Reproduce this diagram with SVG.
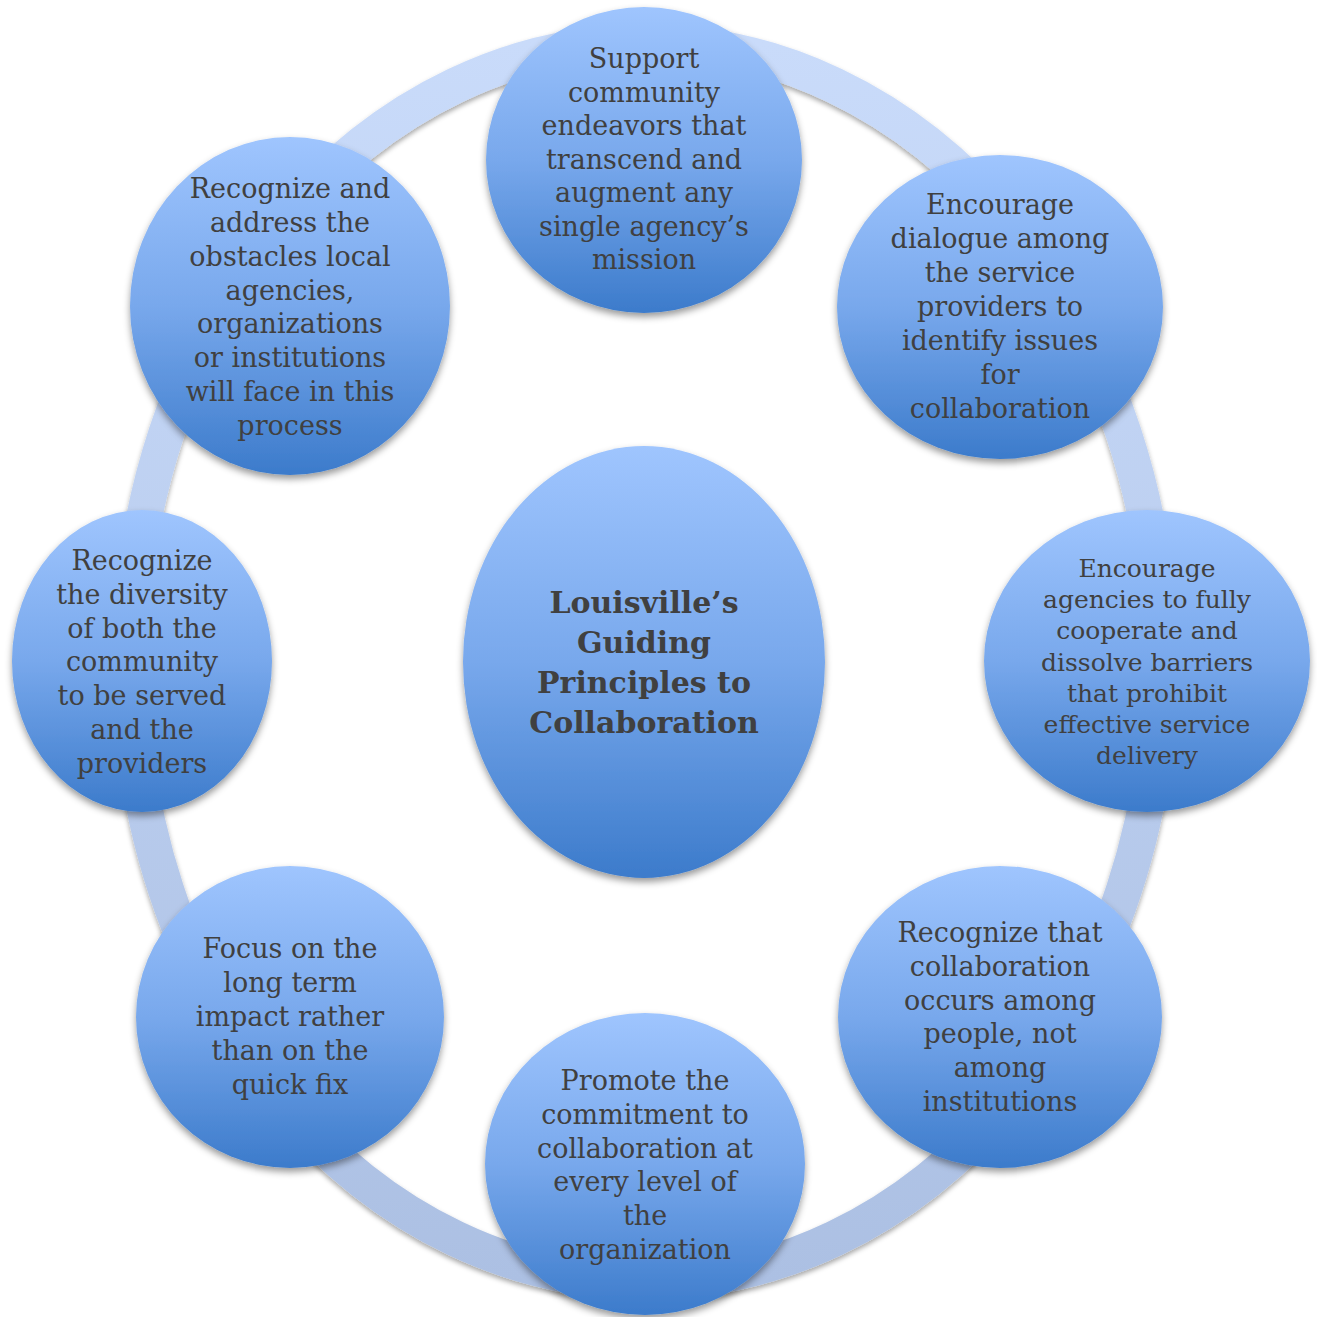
<svg xmlns="http://www.w3.org/2000/svg" width="1317" height="1317" viewBox="0 0 1317 1317">
<style>
  .node { fill: url(#nodeGrad); filter: url(#shadow); }
  .t { font-family: "DejaVu Serif", "Liberation Serif", serif; font-size: 27px; fill: #404040; text-anchor: middle; }
  .s { font-size: 25px; }
  .b { font-weight: bold; font-size: 30px; }
</style>
<defs>
  <linearGradient id="nodeGrad" x1="0" y1="0" x2="0" y2="1">
    <stop offset="0" stop-color="#9FC5FE"/>
    <stop offset="0.5" stop-color="#78A8EC"/>
    <stop offset="1" stop-color="#3C7BCB"/>
  </linearGradient>
  <linearGradient id="ringGrad" x1="0" y1="0" x2="0" y2="1">
    <stop offset="0" stop-color="#C9DBFA"/>
    <stop offset="1" stop-color="#ACC0E3"/>
  </linearGradient>
  <filter id="shadow" x="-10%" y="-10%" width="120%" height="125%">
    <feDropShadow dx="0" dy="4" stdDeviation="3.5" flood-color="#000" flood-opacity="0.4"/>
  </filter>
  <filter id="ringShadow" x="-10%" y="-10%" width="120%" height="120%">
    <feDropShadow dx="0" dy="3" stdDeviation="2.5" flood-color="#000" flood-opacity="0.35"/>
  </filter>
</defs>
<rect width="1317" height="1317" fill="#FFFFFF"/>
<g id="connectors">
  <ellipse cx="645" cy="662" rx="515" ry="620" fill="none" stroke="url(#ringGrad)" stroke-width="36" filter="url(#ringShadow)"/>
</g>
<g id="center">
  <ellipse class="node" cx="644" cy="662" rx="181" ry="216"/>
  <text class="t b"><tspan x="644" y="613">Louisville’s</tspan><tspan x="644" y="653">Guiding</tspan><tspan x="644" y="693">Principles to</tspan><tspan x="644" y="733">Collaboration</tspan></text>
</g>
<g id="node1">
  <ellipse class="node" cx="644" cy="160" rx="158" ry="153"/>
  <text class="t"><tspan x="644" y="68">Support</tspan><tspan x="644" y="101.5">community</tspan><tspan x="644" y="135">endeavors that</tspan><tspan x="644" y="168.5">transcend and</tspan><tspan x="644" y="202">augment any</tspan><tspan x="644" y="235.5">single agency’s</tspan><tspan x="644" y="269">mission</tspan></text>
</g>
<g id="node2">
  <ellipse class="node" cx="1000" cy="307" rx="163" ry="152"/>
  <text class="t"><tspan x="1000" y="214">Encourage</tspan><tspan x="1000" y="248">dialogue among</tspan><tspan x="1000" y="282">the service</tspan><tspan x="1000" y="316">providers to</tspan><tspan x="1000" y="350">identify issues</tspan><tspan x="1000" y="384">for</tspan><tspan x="1000" y="418">collaboration</tspan></text>
</g>
<g id="node3">
  <ellipse class="node" cx="1147" cy="661" rx="163" ry="151"/>
  <text class="t s"><tspan x="1147" y="577">Encourage</tspan><tspan x="1147" y="608">agencies to fully</tspan><tspan x="1147" y="639">cooperate and</tspan><tspan x="1147" y="671">dissolve barriers</tspan><tspan x="1147" y="702">that prohibit</tspan><tspan x="1147" y="733">effective service</tspan><tspan x="1147" y="764">delivery</tspan></text>
</g>
<g id="node4">
  <ellipse class="node" cx="1000" cy="1017" rx="162" ry="151"/>
  <text class="t"><tspan x="1000" y="942">Recognize that</tspan><tspan x="1000" y="976">collaboration</tspan><tspan x="1000" y="1010">occurs among</tspan><tspan x="1000" y="1043">people, not</tspan><tspan x="1000" y="1077">among</tspan><tspan x="1000" y="1111">institutions</tspan></text>
</g>
<g id="node5">
  <ellipse class="node" cx="645" cy="1164" rx="160" ry="151"/>
  <text class="t"><tspan x="645" y="1090">Promote the</tspan><tspan x="645" y="1124">commitment to</tspan><tspan x="645" y="1158">collaboration at</tspan><tspan x="645" y="1191">every level of</tspan><tspan x="645" y="1225">the</tspan><tspan x="645" y="1259">organization</tspan></text>
</g>
<g id="node6">
  <ellipse class="node" cx="290" cy="1017" rx="154" ry="151"/>
  <text class="t"><tspan x="290" y="958">Focus on the</tspan><tspan x="290" y="992">long term</tspan><tspan x="290" y="1026">impact rather</tspan><tspan x="290" y="1060">than on the</tspan><tspan x="290" y="1094">quick fix</tspan></text>
</g>
<g id="node7">
  <ellipse class="node" cx="142" cy="661" rx="130" ry="151"/>
  <text class="t"><tspan x="142" y="570">Recognize</tspan><tspan x="142" y="604">the diversity</tspan><tspan x="142" y="638">of both the</tspan><tspan x="142" y="671">community</tspan><tspan x="142" y="705">to be served</tspan><tspan x="142" y="739">and the</tspan><tspan x="142" y="773">providers</tspan></text>
</g>
<g id="node8">
  <ellipse class="node" cx="290" cy="306" rx="160" ry="169"/>
  <text class="t"><tspan x="290" y="198">Recognize and</tspan><tspan x="290" y="232">address the</tspan><tspan x="290" y="266">obstacles local</tspan><tspan x="290" y="300">agencies,</tspan><tspan x="290" y="333">organizations</tspan><tspan x="290" y="367">or institutions</tspan><tspan x="290" y="401">will face in this</tspan><tspan x="290" y="435">process</tspan></text>
</g>
</svg>
